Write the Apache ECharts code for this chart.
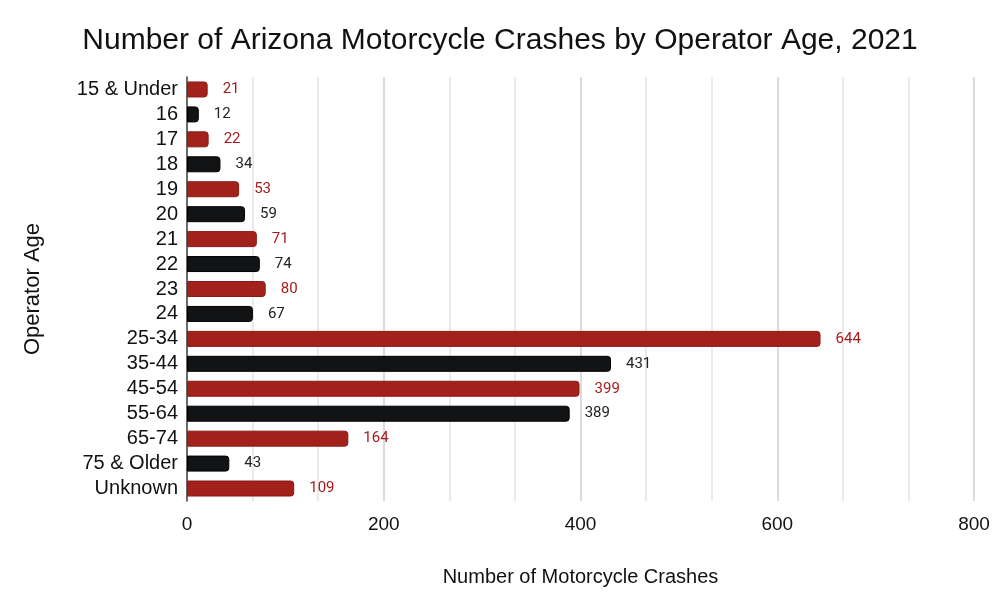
<!DOCTYPE html>
<html>
<head>
<meta charset="utf-8">
<script src="https://cdn.jsdelivr.net/npm/echarts@6/dist/echarts.min.js"></script>
<style>
  html, body { margin: 0; padding: 0; background: #fff; }
  #main { width: 1000px; height: 604px; }
</style>
</head>
<body>
<div id="main"></div>
<script>
// 数据
var ages = ["15 & Under", "16", "17", "18", "19", "20", "21", "22", "23", "24",
  "25-34", "35-44", "45-54", "55-64", "65-74", "75 & Older", "Unknown"];
var crashes = [21, 12, 22, 34, 53, 59, 71, 74, 80, 67, 644, 431, 399, 389, 164, 43, 109];
var xTicks = [0, 200, 400, 600, 800];

var red = "#a2211a";
var black = "#111315";

var myChart = echarts.init(document.getElementById("main"));

// 颜色交替：红 / 黑
var barData = crashes.map(function (v, i) {
  var odd = i % 2 === 1;
  return {
    value: v,
    itemStyle: {
      color: odd ? black : red,
      borderColor: odd ? "#000" : "#8a1a14"
    },
    label: { color: odd ? "#222" : "#a61c1c" }
  };
});

var option = {
  backgroundColor: "#fff",
  title: {
    text: "Number of Arizona Motorcycle Crashes by Operator Age, 2021",
    left: "center",
    top: 21,
    textStyle: {
      fontFamily: "Liberation Sans",
      fontWeight: "normal",
      fontSize: 30,
      color: "#111"
    }
  },
  grid: {
    left: 187,
    right: 26,
    top: 77,
    bottom: 103
  },
  xAxis: {
    type: "value",
    min: xTicks[0],
    max: xTicks[xTicks.length - 1],
    interval: 200,
    name: "Number of Motorcycle Crashes",
    nameLocation: "middle",
    nameGap: 66,
    nameTextStyle: {
      fontFamily: "Liberation Sans",
      fontSize: 20,
      color: "#111"
    },
    axisLine: { show: false },
    axisTick: { show: false },
    axisLabel: {
      margin: 14,
      fontFamily: "Liberation Sans",
      fontSize: 19,
      color: "#111"
    },
    splitLine: { lineStyle: { color: "#cfcfcf", width: 1.5 } },
    minorTick: { show: false, splitNumber: 3 },
    minorSplitLine: { show: true, lineStyle: { color: "#e4e4e4", width: 1.5 } }
  },
  yAxis: {
    type: "category",
    data: ages,
    inverse: true,
    name: "Operator Age",
    nameLocation: "middle",
    nameGap: 143,
    nameRotate: 90,
    nameTextStyle: {
      fontFamily: "Liberation Sans",
      fontSize: 22,
      color: "#111"
    },
    axisLine: { lineStyle: { color: "#444", width: 1.5 } },
    axisTick: { show: false },
    axisLabel: {
      interval: 0,
      margin: 9,
      fontFamily: "Liberation Sans",
      fontSize: 20,
      color: "#111"
    }
  },
  series: [
    {
      type: "bar",
      data: barData,
      barWidth: 16,
      itemStyle: {
        borderRadius: [0, 3, 3, 0],
        borderWidth: 1
      },
      label: {
        show: true,
        position: "right",
        distance: 15,
        fontFamily: "Roboto",
        fontSize: 15
      }
    }
  ]
};
myChart.setOption(option);
</script>
</body>
</html>
